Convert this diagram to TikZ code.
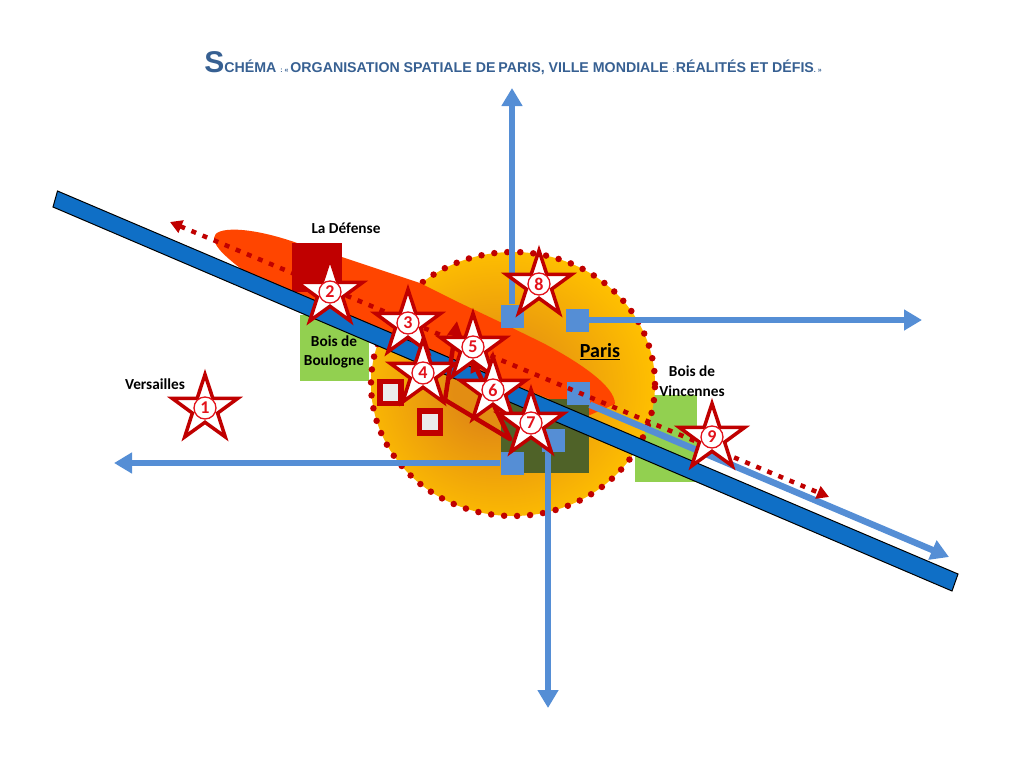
\documentclass[tikz,border=0pt]{standalone}
\usepackage{fontspec}
\setmainfont{Carlito}
\newfontfamily\titlefont{Liberation Sans}
\usetikzlibrary{shapes.geometric,arrows.meta}
\definecolor{dred}{HTML}{C00000}
\definecolor{numred}{HTML}{E3121B}
\definecolor{bband}{HTML}{0F6FC6}
\definecolor{bsq}{HTML}{558ED5}
\definecolor{lgreen}{HTML}{92D050}
\definecolor{dgreen}{HTML}{4F6228}
\definecolor{gold}{HTML}{FFC000}
\definecolor{redor}{HTML}{FF4500}
\definecolor{ttl}{HTML}{376092}
\definecolor{deepor}{HTML}{E38D12}
\pgfdeclareradialshading{parisshade}{\pgfpoint{-4bp}{-2bp}}{%
  color(0bp)=(deepor);
  color(7bp)=(deepor);
  color(27bp)=(gold);
  color(50bp)=(gold)}
\tikzset{
  lab/.style={font=\bfseries\fontsize{15.3}{17}\selectfont,align=center,inner sep=0pt,text=black},
  bluesq/.style={draw=none,fill=bsq,minimum width=23pt,minimum height=23pt,inner sep=0pt},
  flow/.style={draw=bsq,line width=6.5pt,-{Triangle[length=18pt,width=20pt]}},
  mark star/.style={star,star points=5,star point ratio=2.6,draw=dred,fill=white,line width=3.5pt,minimum size=69pt,inner sep=0pt},
  numc/.style={circle,draw=numred,fill=white,line width=1.3pt,minimum size=22pt,inner sep=0pt,text=numred,font=\bfseries\fontsize{18}{18}\selectfont},
  redbox/.style={draw=dred,line width=5.5pt,fill=white!92!black,inner sep=0pt,minimum width=21pt,minimum height=22pt},
  zone/.style={draw=none,inner sep=0pt,anchor=north west},
  linkarrow/.style={draw=dred,line width=4.5pt,-{Triangle[length=15pt,width=14pt]}},
}
\begin{document}
\begin{tikzpicture}[x=1pt,y=-1pt]
\useasboundingbox (0,0) rectangle (1024,768);
% woods
\node[zone,fill=lgreen,minimum width=69pt,minimum height=66pt] (boulogne) at (300,315) {};
\node[zone,fill=lgreen,minimum width=62pt,minimum height=87pt] (vincennes) at (635,395) {};
% city
\node[ellipse,minimum width=284pt,minimum height=264pt,inner sep=0pt,shading=parisshade,draw=none] (paris) at (513,384) {};
\node[ellipse,minimum width=284pt,minimum height=264pt,inner sep=0pt,draw=dred,line width=6.5pt,line cap=round,dash pattern=on 0pt off 13pt] at (513,384) {};
% west axis
\fill[redor] (214,238) .. controls (214,226) and (250,226) .. (300,244)
  -- (342,257) -- (420,283) -- (460,303) -- (500,322) -- (543,343) .. controls (575,360) and (615,385) .. (615,404)
  -- (590,415) -- (300,300) -- (245,272) .. controls (230,260) and (214,248) .. (214,238) -- cycle;
\node[zone,fill=dgreen,minimum width=88pt,minimum height=74pt] (centre) at (501,399) {};
\node[zone,fill=dred,minimum width=50pt,minimum height=49pt] (ladef) at (292,243) {};
% band
\path[fill=bband,draw=black,line width=1pt] (57.5,191) -- (958,574) -- (952,591) -- (53,207) -- cycle;
% squares
\node[bluesq] (n) at (512,316) {};
\node[bluesq] (e) at (577,320) {};
\node[bluesq] (se) at (578,393) {};
\node[bluesq] (s) at (553,440) {};
\node[bluesq] (w) at (512,463) {};
\coordinate (nend) at (512,88);
\coordinate (eend) at (922,320);
\coordinate (seend) at (949,557);
\coordinate (send) at (548,708);
\coordinate (wend) at (114,463);
\draw[flow] (n.north) -- (nend);
\draw[flow] (e.east) -- (eend);
\draw[flow] (se.south east) -- (seend);
\draw[flow] (s.south -| send) -- (send);
\draw[flow] (w.west) -- (wend);
% dotted axis
\coordinate (dw) at (170,222);
\coordinate (de) at (829,497);
\draw[dred,line width=4.5pt,dash pattern=on 5pt off 7pt,{Triangle[length=12pt,width=13pt]}-{Triangle[length=12pt,width=13pt]}] (dw) -- (de);
% boxes
\node[redbox] (b1) at (390.5,392.5) {};
\node[redbox] (b2) at (430,422) {};
% link polygon
\coordinate (pa) at (457,321);
\coordinate (pb) at (445,400);
\coordinate (pc) at (510,439);
\coordinate (pd) at (471,357);
\draw[linkarrow] (pb) -- (pa);
\draw[linkarrow] (pc) -- (pd);
\draw[draw=dred,line width=4.5pt,line cap=round] (pb) -- (pc);
% stars
\foreach \nm/\px/\py in {1/205/408,2/330/292,3/408/323,4/423/373,5/473/347,6/493/390,7/531/423,8/539/284,9/712/437}{
  \node[mark star] (star\nm) at (\px,\py+1) {};
  \node[numc] (num\nm) at (\px,\py) {\nm};
}
% labels
\node[lab] (tdef) at (346,228) {La Défense};
\node[lab] (tbou) at (334,352) {Bois de\\[2.5pt]Boulogne};
\node[lab] (tver) at (155,384) {Versailles};
\node[lab] (tvin) at (692,381) {Bois de\\[2.5pt]Vincennes};
\node[lab,font=\bfseries\fontsize{20}{22}\selectfont] (tpar) at (600,352) {\underline{Paris}};
\node[inner sep=0pt,text=ttl,font=\titlefont\bfseries] (title) at (513,63) {%
  \fontsize{30}{30}\selectfont S\fontsize{14.2}{14.2}\selectfont CHÉMA
  \fontsize{7}{7}\selectfont : «
  \fontsize{14.2}{14.2}\selectfont ORGANISATION SPATIALE DE\kern-1pt\ PARIS, VILLE MONDIALE
  \fontsize{7}{7}\selectfont :\kern1pt\fontsize{14.2}{14.2}\selectfont RÉALITÉS ET DÉFIS\fontsize{7}{7}\selectfont. »};
\end{tikzpicture}
\end{document}
